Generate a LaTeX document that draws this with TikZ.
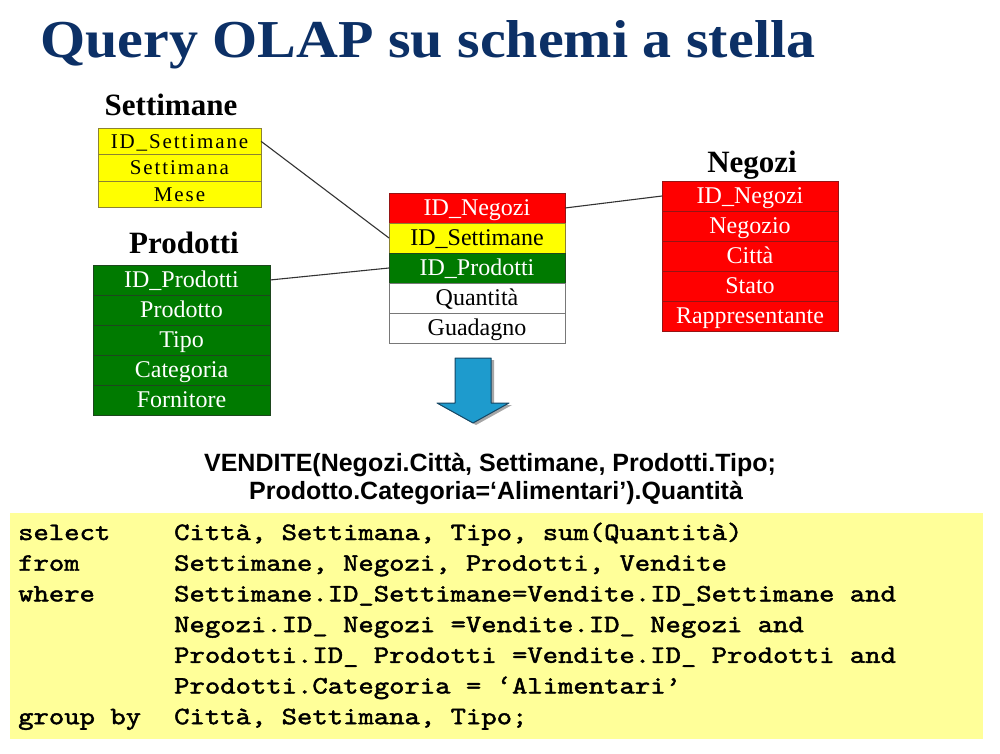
\documentclass[tikz,border=0pt]{standalone}
\usepackage{fontspec}
\usepackage{graphicx}
\setmainfont{Liberation Serif}
\setsansfont{Liberation Sans}
\newfontfamily\codefont{lmmono10-regular.otf}[FakeBold=1.6]

\definecolor{titleblue}{RGB}{12,48,102}
\definecolor{cellyellow}{RGB}{255,255,0}
\definecolor{cellred}{RGB}{255,0,0}
\definecolor{cellgreen}{RGB}{0,122,0}
\definecolor{edgeyellow}{RGB}{140,130,50}
\definecolor{edgered}{RGB}{150,20,20}
\definecolor{edgegreen}{RGB}{30,70,30}
\definecolor{edgegray}{RGB}{120,120,120}
\definecolor{codebg}{RGB}{255,255,153}
\definecolor{arrowfill}{RGB}{30,155,205}
\definecolor{arrowedge}{RGB}{20,70,100}

% monospaced code, widened to the pitch of the listing
\newcommand{\codeline}[1]{\scalebox{1.17}[1]{#1}}

\begin{document}
\begin{tikzpicture}[x=1pt,y=-1pt,
  cell/.style={anchor=north west, inner sep=0pt, outer sep=0pt,
    line width=0.9pt, minimum width=#1},
  tabfont/.style={font=\fontsize{24}{26}\selectfont, text height=19pt, text depth=4pt},
  weekfont/.style={font=\fontsize{21}{24}\selectfont\addfontfeature{LetterSpace=9},
    text height=17pt, text depth=3pt},
  yelcell/.style={fill=cellyellow, draw=edgeyellow, text=black},
  redcell/.style={fill=cellred, draw=edgered, text=white},
  grecell/.style={fill=cellgreen, draw=edgegreen, text=white},
  whicell/.style={fill=white, draw=edgegray, text=black},
  tabtitle/.style={anchor=base, inner sep=0pt, font=\fontsize{31}{34}\selectfont\bfseries},
  link/.style={draw=black!80, line width=1.1pt},
  codetext/.style={anchor=base west, inner sep=0pt, font=\fontsize{25}{30}\selectfont\codefont},
  formula/.style={anchor=base, inner sep=0pt, font=\fontsize{25}{28}\selectfont\sffamily\bfseries}
]
\useasboundingbox (0,0) rectangle (1000,754);
\fill[white] (0,0) rectangle (1000,754);

% title
\node[anchor=base west, inner sep=0pt, text=titleblue] (title) at (40,58)
  {\resizebox{775pt}{37pt}{\fontsize{58}{60}\selectfont\bfseries Query OLAP su schemi a stella}};

% dimension table: Settimane
\node[tabtitle] (setT) at (171,116) {Settimane};
\begin{scope}[every node/.style={cell=163pt, minimum height=26.5pt, yelcell, weekfont}]
  \node (set1) at (98,128)   {ID\_Settimane};
  \node (set2) at (98,154.5) {Settimana};
  \node (set3) at (98,181)   {Mese};
\end{scope}

% dimension table: Prodotti
\node[tabtitle] (proT) at (184,253) {Prodotti};
\begin{scope}[every node/.style={cell=177pt, minimum height=30pt, grecell, tabfont}]
  \node (pro1) at (93,265) {ID\_Prodotti};
  \node (pro2) at (93,295) {Prodotto};
  \node (pro3) at (93,325) {Tipo};
  \node (pro4) at (93,355) {Categoria};
  \node (pro5) at (93,385) {Fornitore};
\end{scope}

% fact table: Vendite
\begin{scope}[every node/.style={cell=176pt, minimum height=30pt, tabfont}]
  \node[redcell] (fac1) at (389,193) {ID\_Negozi};
  \node[yelcell] (fac2) at (389,223) {ID\_Settimane};
  \node[grecell] (fac3) at (389,253) {ID\_Prodotti};
  \node[whicell] (fac4) at (389,283) {Quantità};
  \node[whicell] (fac5) at (389,313) {Guadagno};
\end{scope}

% dimension table: Negozi
\node[tabtitle] (negT) at (752,172) {Negozi};
\begin{scope}[every node/.style={cell=176pt, minimum height=30pt, redcell, tabfont}]
  \node (neg1) at (662,181) {ID\_Negozi};
  \node (neg2) at (662,211) {Negozio};
  \node (neg3) at (662,241) {Città};
  \node (neg4) at (662,271) {Stato};
  \node (neg5) at (662,301) {Rappresentante};
\end{scope}

% foreign key links
\draw[link] (set1.east) -- (fac2.west);
\draw[link] (pro1.east) -- (fac3.west);
\draw[link] (fac1.east) -- (neg1.west);

% downward arrow with shadow
\fill[black!35, xshift=3pt, yshift=-2pt]
  (455,358) -- (491,358) -- (491,403) -- (509,403) -- (473,423) -- (437,403) -- (455,403) -- cycle;
\filldraw[fill=arrowfill, draw=arrowedge, line width=1pt, line join=round]
  (455,358) -- (491,358) -- (491,403) -- (509,403) -- (473,423) -- (437,403) -- (455,403) -- cycle;

% multidimensional query
\node[formula] (f1) at (490,471) {VENDITE(Negozi.Città, Settimane, Prodotti.Tipo;};
\node[formula] (f2) at (496,499) {Prodotto.Categoria=‘Alimentari’).Quantità};

% SQL query box
\node[anchor=north west, fill=codebg, inner sep=0pt, minimum width=973pt, minimum height=226pt] (sqlbox) at (10,513) {};
\node[codetext] (k1) at (18,540)   {\codeline{select}};
\node[codetext] (k2) at (18,570.7) {\codeline{from}};
\node[codetext] (k3) at (18,601.4) {\codeline{where}};
\node[codetext] (k7) at (18,724.2) {\codeline{group by}};
\node[codetext] (c1) at (174,540)   {\codeline{Città, Settimana, Tipo, sum(Quantità)}};
\node[codetext] (c2) at (174,570.7) {\codeline{Settimane, Negozi, Prodotti, Vendite}};
\node[codetext] (c3) at (174,601.4) {\codeline{Settimane.ID\_Settimane=Vendite.ID\_Settimane and}};
\node[codetext] (c4) at (174,632.1) {\codeline{Negozi.ID\_ Negozi =Vendite.ID\_ Negozi and}};
\node[codetext] (c5) at (174,662.8) {\codeline{Prodotti.ID\_ Prodotti =Vendite.ID\_ Prodotti and}};
\node[codetext] (c6) at (174,693.5) {\codeline{Prodotti.Categoria = ‘Alimentari’}};
\node[codetext] (c7) at (174,724.2) {\codeline{Città, Settimana, Tipo;}};
\end{tikzpicture}
\end{document}
